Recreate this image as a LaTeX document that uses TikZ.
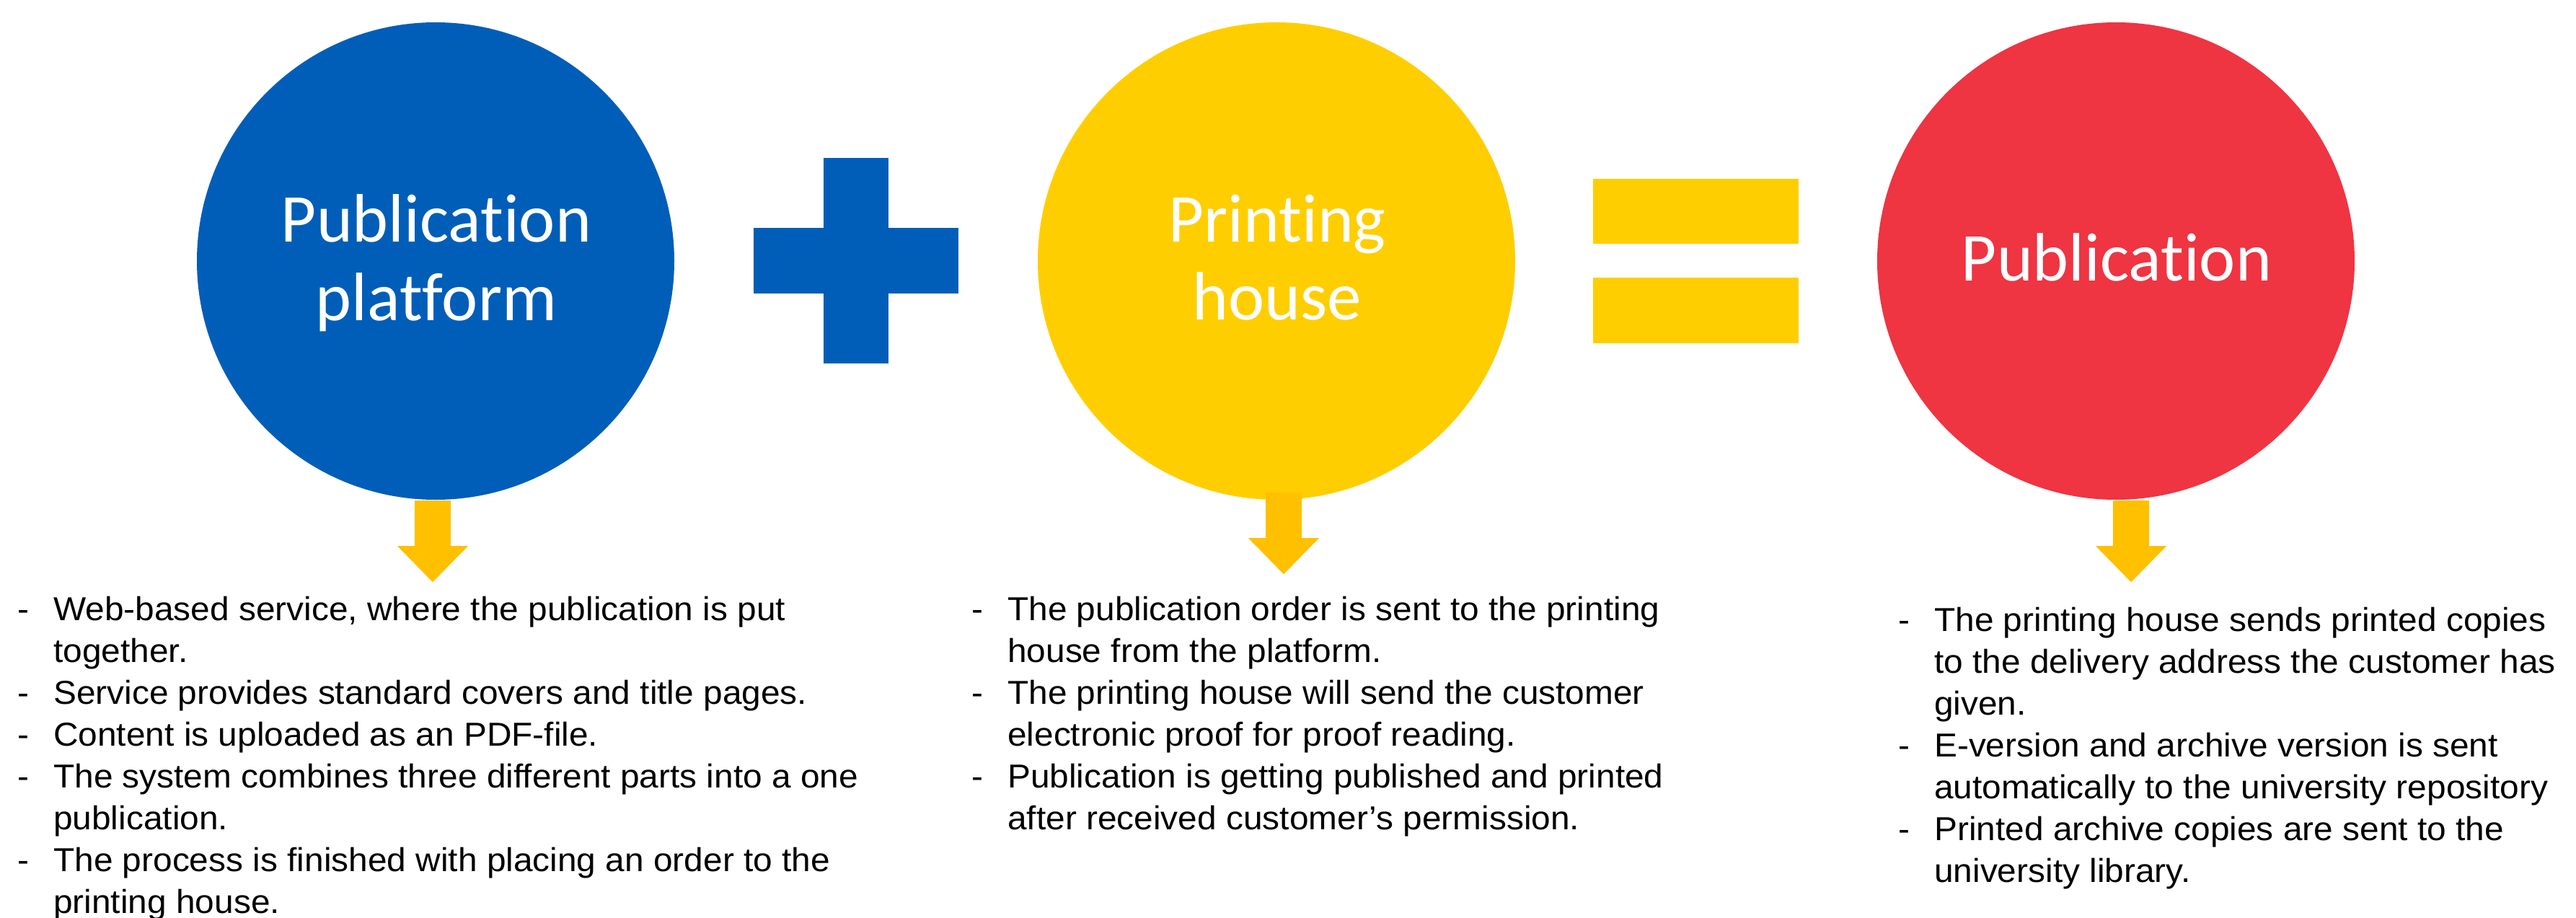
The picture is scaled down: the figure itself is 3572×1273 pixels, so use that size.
\documentclass[tikz,border=0pt]{standalone}
\usepackage{fontspec}
\setmainfont{Liberation Sans}[FakeStretch=1.04]
\newfontfamily\calfont{Carlito}[Ligatures={NoCommon,NoRare}]
\usetikzlibrary{calc}
\definecolor{cblue}{RGB}{0,94,184}
\definecolor{cyellow}{RGB}{255,206,0}
\definecolor{cred}{RGB}{239,52,66}
\definecolor{corange}{RGB}{255,192,0}
\newcommand\bl{\makebox[50pt][l]{-}}
\newcommand\ydownarrow[1]{%
  \fill[corange] ($(#1)+(-25,0)$) -- ($(#1)+(25,0)$) -- ($(#1)+(25,63)$) -- ($(#1)+(49,63)$)
    -- ($(#1)+(0,113)$) -- ($(#1)+(-49,63)$) -- ($(#1)+(-25,63)$) -- cycle;}
\begin{document}
\begin{tikzpicture}[x=1pt,y=-1pt,
  bubble/.style={circle, minimum size=662pt, inner sep=0pt, draw=none},
  ctext/.style={font=\calfont\fontsize{95}{109}\selectfont, text=white, inner sep=0pt, anchor=base},
  body/.style={font=\fontsize{46}{58}\selectfont, inner sep=0pt, anchor=base west, align=left}]
\fill[white] (0,0) rectangle (3572,1273);
\useasboundingbox (0,0) rectangle (3572,1273);

% circles
\node[bubble, fill=cblue] (c1) at (604,362) {};
\node[bubble, fill=cyellow] (c2) at (1770,362) {};
\node[bubble, fill=cred] (c3) at (2934,362) {};

% circle texts
\node[ctext] (c1a) at (605,335) {Publication};
\node[ctext] (c1b) at (605,444) {platform};
\node[ctext] (c2a) at (1771,335) {Printing};
\node[ctext] (c2b) at (1771,443) {house};
\node[ctext] (c3a) at (2935,389) {Publication};

% plus
\fill[cblue] (1142,219) rectangle (1232,504);
\fill[cblue] (1045,316) rectangle (1329,407);
% equals
\fill[cyellow] (2209,248) rectangle (2494,338);
\fill[cyellow] (2209,385) rectangle (2494,476);

% arrows
\coordinate (a1) at ($(c1.south)+(-4,1)$);
\coordinate (a2) at ($(c2.south)+(10,-10)$);
\coordinate (a3) at ($(c3.south)+(21,1)$);
\ydownarrow{a1}
\ydownarrow{a2}
\ydownarrow{a3}

% text blocks
\node[body] (t1) at (24,860) {\begin{tabular}[t]{@{}l@{}l@{}}
\bl & Web-based service, where the publication is put\\
 & together.\\
\bl & Service provides standard covers and title pages.\\
\bl & Content is uploaded as an PDF-file.\\
\bl & The system combines three different parts into a one\\
 & publication.\\
\bl & The process is finished with placing an order to the\\
 & printing house.
\end{tabular}};

\node[body] (t2) at (1347,860) {\begin{tabular}[t]{@{}l@{}l@{}}
\bl & The publication order is sent to the printing\\
 & house from the platform.\\
\bl & The printing house will send the customer\\
 & electronic proof for proof reading.\\
\bl & Publication is getting published and printed\\
 & after received customer’s permission.
\end{tabular}};

\node[body] (t3) at (2632,875) {\begin{tabular}[t]{@{}l@{}l@{}}
\bl & The printing house sends printed copies\\
 & to the delivery address the customer has\\
 & given.\\
\bl & E-version and archive version is sent\\
 & automatically to the university repository\\
\bl & Printed archive copies are sent to the\\
 & university library.
\end{tabular}};
\end{tikzpicture}
\end{document}
